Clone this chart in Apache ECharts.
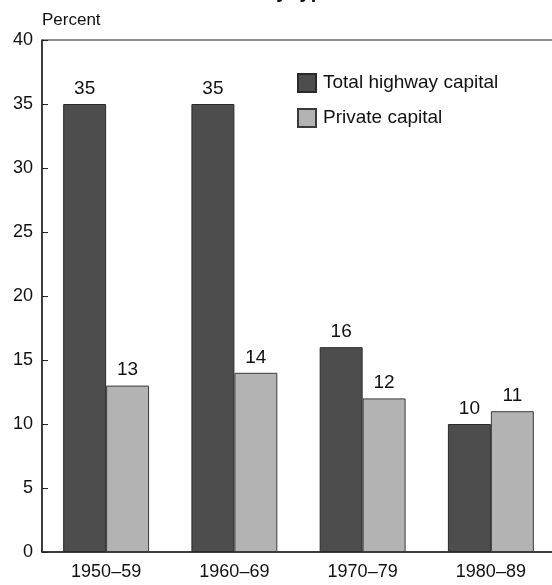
<!DOCTYPE html>
<html>
<head>
<meta charset="utf-8">
<script src="https://cdn.jsdelivr.net/npm/echarts@6/dist/echarts.min.js"></script>
<style>
  html, body { margin: 0; padding: 0; background: #fff; }
  #chart { width: 552px; height: 585px; }
</style>
</head>
<body>
<div id="chart"></div>
<script>
// Decades shown along the horizontal axis
const decades = ['1950\u201359', '1960\u201369', '1970\u201379', '1980\u201389'];
// Growth of each capital type, percent
const totalHighway = [35, 35, 16, 10];
const privateCapital = [13, 14, 12, 11];
// Value axis ticks
const yMin = 0, yMax = 40, yStep = 5;

const FONT = '"Liberation Sans", Arial, sans-serif';
const chart = echarts.init(document.getElementById('chart'), null, { renderer: 'canvas' });

chart.setOption({
  animation: false,
  backgroundColor: '#ffffff',
  textStyle: { fontFamily: FONT, color: '#111' },
  title: {
    text: 'by type',
    left: 294,
    textAlign: 'center',
    top: -23,
    textStyle: { fontFamily: FONT, fontSize: 20, fontWeight: 'bold', color: '#111', lineHeight: 20 }
  },
  legend: {
    orient: 'vertical',
    left: 292,
    top: 68,
    itemWidth: 18,
    itemHeight: 18,
    itemGap: 15,
    icon: 'rect',
    textStyle: { fontFamily: FONT, fontSize: 19, color: '#111', padding: [0, 0, 0, 2] },
    data: ['Total highway capital', 'Private capital']
  },
  grid: {
    left: 42, right: -3, top: 40, bottom: 33,
    outerBoundsMode: 'none',
    containLabel: false,
    show: true, borderColor: '#222', borderWidth: 1, backgroundColor: 'transparent'
  },
  xAxis: {
    type: 'category',
    data: decades,
    axisLine: { lineStyle: { color: '#222', width: 1.5 } },
    axisTick: { inside: true, length: 6, lineStyle: { color: '#222' } },
    axisLabel: { fontFamily: FONT, fontSize: 18, color: '#111', margin: 11 }
  },
  yAxis: {
    type: 'value',
    min: yMin, max: yMax, interval: yStep,
    name: 'Percent',
    nameLocation: 'end',
    nameGap: 11,
    nameTextStyle: { fontFamily: FONT, fontSize: 17, color: '#111', align: 'left', padding: [0, 0, 0, 0] },
    axisLine: { show: true, lineStyle: { color: '#222', width: 1.5 } },
    axisTick: { show: true, inside: true, length: 6, lineStyle: { color: '#222' } },
    splitLine: { show: false },
    axisLabel: { fontFamily: FONT, fontSize: 18, color: '#111', margin: 9 }
  },
  series: [
    {
      name: 'Total highway capital',
      type: 'bar',
      data: totalHighway,
      barGap: '0%',
      barCategoryGap: '33%',
      itemStyle: { color: '#4d4d4d', borderColor: '#2a2a2a', borderWidth: 1 },
      label: { show: true, position: 'top', distance: 6, fontFamily: FONT, fontSize: 19, color: '#111' }
    },
    {
      name: 'Private capital',
      type: 'bar',
      data: privateCapital,
      itemStyle: { color: '#b3b3b3', borderColor: '#3a3a3a', borderWidth: 1 },
      label: { show: true, position: 'top', distance: 6, fontFamily: FONT, fontSize: 19, color: '#111' }
    }
  ]
});
</script>
</body>
</html>
